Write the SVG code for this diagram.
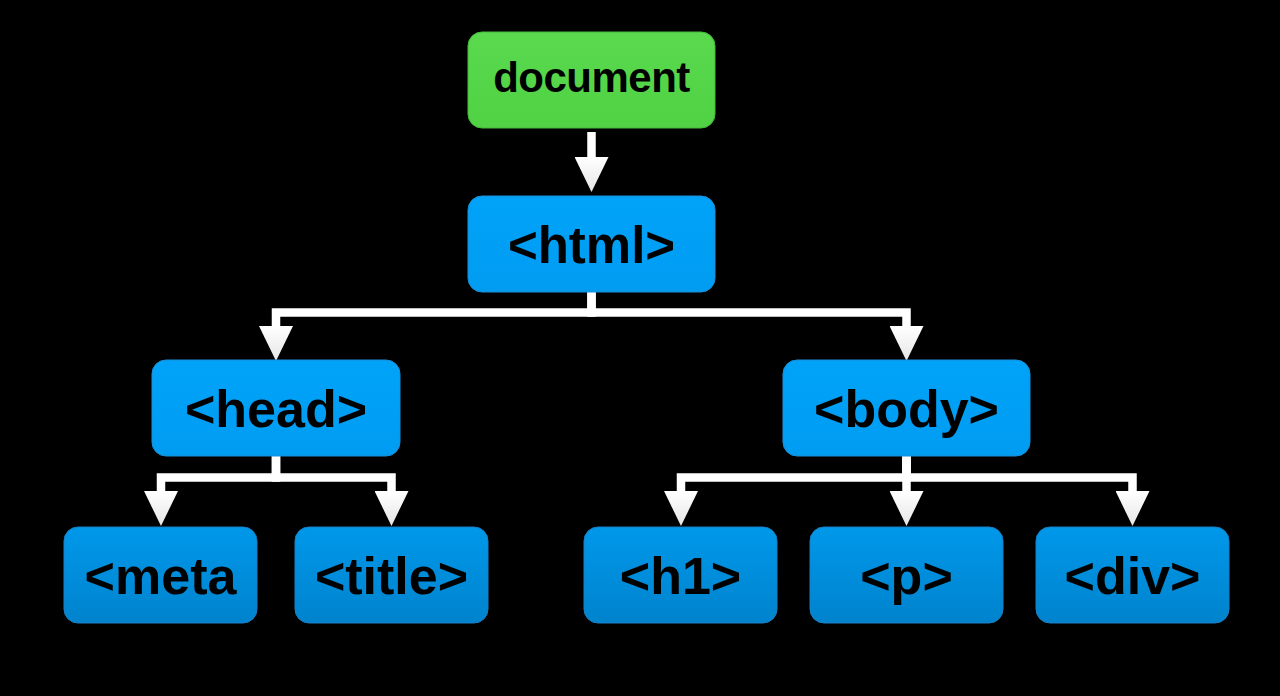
<svg xmlns="http://www.w3.org/2000/svg" width="1280" height="696" viewBox="0 0 1280 696">
<defs>
<linearGradient id="gTop" x1="0" y1="0" x2="0" y2="1">
<stop offset="0" stop-color="#00a3f8"/><stop offset="1" stop-color="#009cf2"/>
</linearGradient>
<linearGradient id="gLeaf" x1="0" y1="0" x2="0" y2="1">
<stop offset="0" stop-color="#0098ea"/><stop offset="1" stop-color="#0083cd"/>
</linearGradient>
<linearGradient id="gDoc" x1="0" y1="0" x2="0" y2="1">
<stop offset="0" stop-color="#5ad94e"/><stop offset="1" stop-color="#50d244"/>
</linearGradient>
<linearGradient id="gHead" x1="0" y1="0" x2="1" y2="0">
<stop offset="0" stop-color="#ffffff"/><stop offset="1" stop-color="#e6e6e6"/>
</linearGradient>
<marker id="ah" viewBox="0 0 35 34" markerWidth="35" markerHeight="34" refX="0" refY="17" orient="auto" markerUnits="userSpaceOnUse">
<path d="M0,0 L35,17 L0,34 Z" fill="url(#gHead)"/>
</marker>
<style>
.box{stroke-width:1}
.top{fill:url(#gTop);stroke:#1a8fd6}
.leaf{fill:url(#gLeaf);stroke:#1a7fc4}
.doc{fill:url(#gDoc);stroke:#46b83c}
text{font-family:"Liberation Sans",Arial,Helvetica,sans-serif;font-weight:bold;fill:#000;text-anchor:middle}
.big{font-size:52px}
.conn path{fill:none;stroke:#ffffff;stroke-width:8.5;stroke-linejoin:miter;marker-end:url(#ah)}
</style>
</defs>
<rect width="1280" height="696" fill="#000"/>
<g id="connectors" class="conn">
<path d="M591.5,132 V157"/>
<path d="M591.5,292 V312.5 H276 V326"/>
<path d="M591.5,292 V312.5 H906.5 V326"/>
<path d="M276,456 V477.5 H161 V491"/>
<path d="M276,456 V477.5 H391.5 V491"/>
<path d="M906.5,456 V477.5 H681 V491"/>
<path d="M906.5,456 V491"/>
<path d="M906.5,456 V477.5 H1132.5 V491"/>
</g>
<g id="document"><rect class="box doc" x="468" y="32" width="247" height="96" rx="14"/><text x="591.5" y="92" font-size="42" letter-spacing="-0.5">document</text></g>
<g id="html"><rect class="box top" x="468" y="196" width="247" height="96" rx="14"/><text x="591.5" y="263" font-size="51">&lt;html&gt;</text></g>
<g id="head"><rect class="box top" x="152" y="360" width="248" height="96" rx="14"/><text class="big" x="276" y="427">&lt;head&gt;</text></g>
<g id="body"><rect class="box top" x="783" y="360" width="247" height="96" rx="14"/><text class="big" x="906.5" y="427">&lt;body&gt;</text></g>
<g id="meta"><rect class="box leaf" x="64" y="527" width="193" height="96" rx="14"/><text class="big" x="160.5" y="594">&lt;meta</text></g>
<g id="title"><rect class="box leaf" x="295" y="527" width="193" height="96" rx="14"/><text class="big" x="391.5" y="594">&lt;title&gt;</text></g>
<g id="h1"><rect class="box leaf" x="584" y="527" width="193" height="96" rx="14"/><text class="big" x="680.5" y="594">&lt;h1&gt;</text></g>
<g id="p"><rect class="box leaf" x="810" y="527" width="193" height="96" rx="14"/><text class="big" x="906.5" y="594">&lt;p&gt;</text></g>
<g id="div"><rect class="box leaf" x="1036" y="527" width="193" height="96" rx="14"/><text class="big" x="1132.5" y="594">&lt;div&gt;</text></g>
</svg>
